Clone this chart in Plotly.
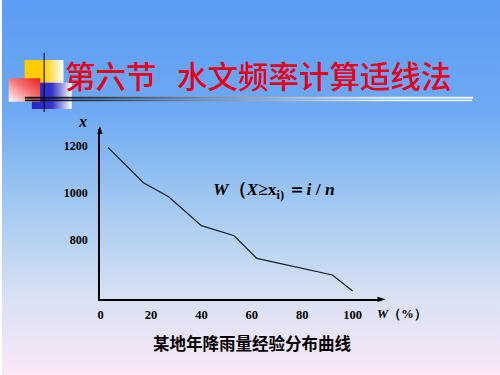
import base64
import plotly.graph_objects as go

# ---- data ----
w_percent = [3, 17, 27, 40, 53, 62, 92, 100]
rain_x = [1193, 1044, 984, 861, 818, 722, 651, 583]
x_ticks = [0, 20, 40, 60, 80, 100]
y_ticks = [800, 1000, 1200]
title_text = "第六节   水文频率计算适线法"
caption_text = "某地年降雨量经验分布曲线"
formula_text = "<b><i>W</i>（<i>X</i>≥x<sub>i)</sub> ＝<i>i</i> / <i>n</i></b>"

W, H = 500, 375

def px(x):
    return x / W

def py(y):
    return 1 - y / H

# ---- background & decoration as SVG ----
svg = f'''<svg xmlns="http://www.w3.org/2000/svg" width="{W}" height="{H}" viewBox="0 0 {W} {H}">
<defs>
<linearGradient id="bg" x1="0" y1="0" x2="0" y2="1">
<stop offset="0" stop-color="#5a9bf4"/>
<stop offset="0.3" stop-color="#6eaaf3"/>
<stop offset="0.55" stop-color="#a2c9f1"/>
<stop offset="0.78" stop-color="#d6e0f3"/>
<stop offset="1" stop-color="#fbe8f8"/>
</linearGradient>
<linearGradient id="yel" x1="0" y1="0" x2="1" y2="0">
<stop offset="0" stop-color="#ffcc00"/>
<stop offset="0.5" stop-color="#ffcc00"/>
<stop offset="1" stop-color="#ffffff"/>
</linearGradient>
<linearGradient id="blu" x1="0" y1="0" x2="1" y2="0">
<stop offset="0" stop-color="#2626c4"/>
<stop offset="0.5" stop-color="#3333cc"/>
<stop offset="1" stop-color="#ffffff"/>
</linearGradient>
<linearGradient id="red" x1="0" y1="1" x2="1" y2="0">
<stop offset="0" stop-color="#ffffff"/>
<stop offset="0.55" stop-color="#f47070"/>
<stop offset="1" stop-color="#ee1c1c"/>
</linearGradient>
<linearGradient id="ln" x1="0" y1="0" x2="1" y2="0">
<stop offset="0" stop-color="#000000"/>
<stop offset="0.4" stop-color="#7a8a9a"/>
<stop offset="0.85" stop-color="#ffffff"/>
<stop offset="1" stop-color="#ffffff"/>
</linearGradient>
</defs>
<rect x="0" y="0" width="{W}" height="{H}" fill="url(#bg)"/>
<rect x="22.7" y="60" width="39" height="23" fill="url(#yel)"/>
<rect x="30" y="82.7" width="40" height="26.3" fill="url(#blu)"/>
<rect x="6.7" y="78.3" width="31.6" height="23.4" fill="url(#red)"/>
<rect x="23" y="96.8" width="450" height="1.8" fill="url(#ln)"/>
<rect x="23" y="99.6" width="449" height="1.6" fill="url(#ln)"/>
<rect x="41.8" y="53" width="1" height="59" fill="#000000"/>
</svg>'''
svg_uri = "data:image/svg+xml;base64," + base64.b64encode(svg.encode("utf-8")).decode("ascii")

# axis pixel geometry
x0_px, x_unit = 99.0, 2.53
y_ref_px, y_ref_val, y_unit = 193.0, 1000.0, 0.235
ax_left, ax_right = 98.3, 382.0
ax_top, ax_bottom = 129.0, 299.3

x_range = [(ax_left - x0_px) / x_unit, (ax_right - x0_px) / x_unit]
y_range = [y_ref_val - (ax_bottom - y_ref_px) / y_unit, y_ref_val + (y_ref_px - ax_top) / y_unit]

serif = "Liberation Serif, Times New Roman, serif"
cjk = "Noto Sans CJK SC"

fig = go.Figure()
fig.add_trace(go.Scatter(
    x=w_percent, y=rain_x, mode="lines",
    line=dict(color="#141e2a", width=1.2),
    hoverinfo="skip", showlegend=False,
))

fig.update_layout(
    width=W, height=H,
    margin=dict(l=0, r=0, t=0, b=0),
    paper_bgcolor="rgba(0,0,0,0)",
    plot_bgcolor="rgba(0,0,0,0)",
    showlegend=False,
    xaxis=dict(
        domain=[px(ax_left), px(ax_right)], range=x_range,
        showgrid=False, zeroline=False,
        showline=True, linecolor="black", linewidth=1.5,
        ticks="", tickvals=x_ticks, ticktext=[str(v) for v in x_ticks],
        ticklabelstandoff=3,
        tickfont=dict(family=serif, size=12.5, color="black", weight="bold"),
        fixedrange=True,
    ),
    yaxis=dict(
        domain=[py(ax_bottom), py(ax_top)], range=y_range,
        showgrid=False, zeroline=False,
        showline=True, linecolor="black", linewidth=1.5,
        ticks="", tickvals=y_ticks, ticktext=[str(v) for v in y_ticks],
        ticklabelstandoff=8,
        tickfont=dict(family=serif, size=12, color="black", weight="bold"),
        fixedrange=True,
    ),
    images=[dict(
        source=svg_uri, xref="paper", yref="paper",
        x=0, y=1, sizex=1, sizey=1, sizing="stretch",
        xanchor="left", yanchor="top", layer="below",
    )],
)

# arrow heads
fig.add_shape(type="path", xref="paper", yref="paper",
              path=f"M {px(ax_left)} {py(ax_top - 3)} L {px(ax_left - 2.6)} {py(ax_top + 5)} L {px(ax_left + 2.6)} {py(ax_top + 5)} Z",
              fillcolor="black", line=dict(width=0))
fig.add_shape(type="path", xref="paper", yref="paper",
              path=f"M {px(ax_right + 3)} {py(ax_bottom)} L {px(ax_right - 5)} {py(ax_bottom - 2.6)} L {px(ax_right - 5)} {py(ax_bottom + 2.6)} Z",
              fillcolor="black", line=dict(width=0))

# title
fig.add_annotation(text=title_text, xref="paper", yref="paper",
                   x=px(61), y=py(75), xanchor="left", yanchor="middle",
                   showarrow=False,
                   font=dict(family=cjk, size=30.5, color="#e8001a", weight=500))
# axis labels
fig.add_annotation(text="<b><i>x</i></b>", xref="paper", yref="paper",
                   x=px(81), y=py(121), xanchor="center", yanchor="middle",
                   showarrow=False, font=dict(family=serif, size=16, color="black"))
fig.add_annotation(text="<b><i>W</i>（%）</b>", xref="paper", yref="paper",
                   x=px(374), y=py(314), xanchor="left", yanchor="middle",
                   showarrow=False, font=dict(family=serif, size=12.5, color="black"))
# formula
fig.add_annotation(text=formula_text, xref="paper", yref="paper",
                   x=px(210), y=py(190), xanchor="left", yanchor="middle",
                   showarrow=False, font=dict(family=serif, size=17.5, color="black"))
# caption
fig.add_annotation(text=f"<b>{caption_text}</b>", xref="paper", yref="paper",
                   x=px(252), y=py(343), xanchor="center", yanchor="middle",
                   showarrow=False, font=dict(family=cjk, size=16.5, color="black"))

fig.write_html(
    "out.html",
    config={"displayModeBar": False},
    post_script="document.body.style.margin='0';document.body.style.overflow='hidden';",
)
